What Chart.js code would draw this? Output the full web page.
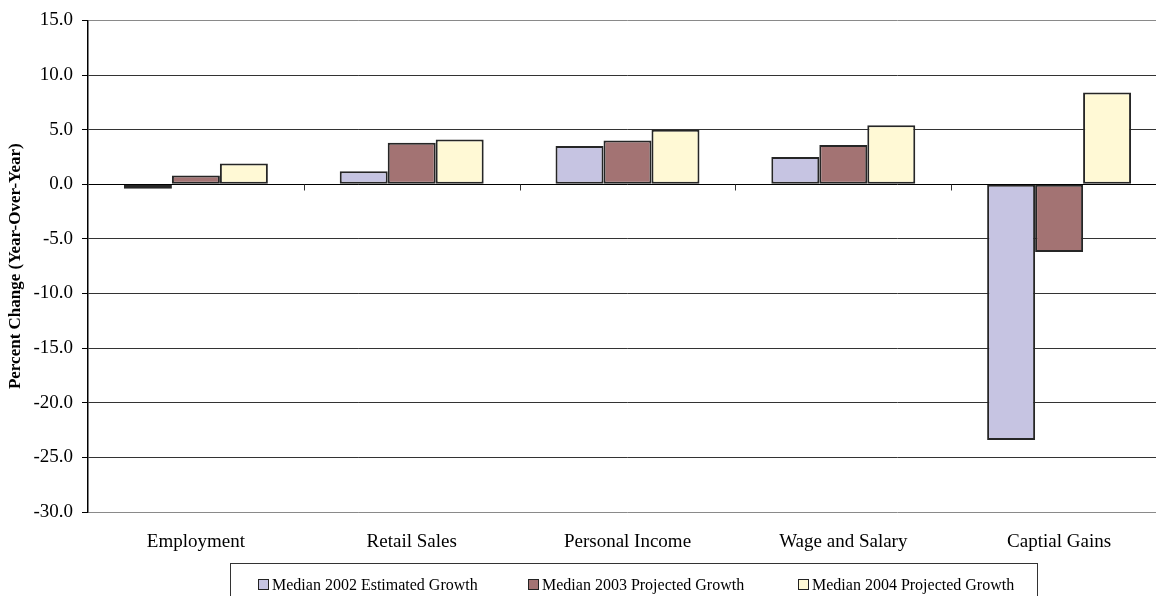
<!DOCTYPE html>
<html lang="en">
<head>
<meta charset="UTF-8">
<title>Median Growth Projections</title>
<script src="https://cdn.jsdelivr.net/npm/chart.js"></script>
<style>
    html, body { margin: 0; padding: 0; background: #fff; overflow: hidden; }
    #myChart { display: block; }
</style>
</head>
<body>
<canvas id="myChart" width="1167" height="596"></canvas>
<script>
    // data
    var categories = ['Employment', 'Retail Sales', 'Personal Income', 'Wage and Salary', 'Captial Gains']
    var median2002 = [-0.4, 1.2, 3.5, 2.5, -23.4]
    var median2003 = [0.8, 3.8, 4.0, 3.6, -6.2]
    var median2004 = [1.9, 4.1, 5.0, 5.4, 8.4]
    var seriesLabels = ['Median 2002 Estimated Growth', 'Median 2003 Projected Growth', 'Median 2004 Projected Growth']
    var yMin = -30
    var yMax = 15
    var yStep = 5

    var serif = '"Liberation Serif", "Times New Roman", serif'
    var colors = ['#c6c4e2', '#a37373', '#fff9d5']

    // small tick marks on the zero line between categories
    var zeroTicks = {
        id: 'zeroTicks',
        afterDatasetsDraw(chart) {
            var x = chart.scales.x
            var y = chart.scales.y
            var zero = Math.round(y.getPixelForValue(0)) + 0.5
            var ctx = chart.ctx
            ctx.save()
            ctx.strokeStyle = '#333'
            ctx.lineWidth = 1
            for (var i = 1; i < categories.length; i++) {
                var px = Math.round((x.getPixelForTick(i) + x.getPixelForTick(i - 1)) / 2) + 0.5
                ctx.beginPath()
                ctx.moveTo(px, zero)
                ctx.lineTo(px, zero + 6)
                ctx.stroke()
            }
            ctx.restore()
        }
    }

    // boxed legend under the chart
    var legendBox = {
        id: 'legendBox',
        afterDraw(chart) {
            var ctx = chart.ctx
            var starts = [258, 528, 798]
            ctx.save()
            ctx.strokeStyle = '#333'
            ctx.lineWidth = 1
            ctx.strokeRect(230.5, 563.5, 807, 60)
            ctx.font = '16px ' + serif
            ctx.textBaseline = 'alphabetic'
            chart.data.datasets.forEach(function (ds, i) {
                ctx.fillStyle = ds.backgroundColor
                ctx.fillRect(starts[i], 579, 10, 10)
                ctx.strokeStyle = '#222'
                ctx.strokeRect(starts[i] + 0.5, 579.5, 10, 10)
                ctx.fillStyle = '#000'
                ctx.fillText(ds.label, starts[i] + 14, 590)
            })
            ctx.restore()
        }
    }

    var series = [median2002, median2003, median2004]
    var datasets = series.map(function (values, i) {
        return {
            label: seriesLabels[i],
            data: values,
            backgroundColor: colors[i],
            borderColor: '#262626',
            borderWidth: 2,
            borderSkipped: false,
            categoryPercentage: 0.667,
            barPercentage: 1
        }
    })

    var ctx = document.getElementById('myChart')

    var grafico = new Chart(ctx, {
        type: 'bar',
        data: {
            labels: categories,
            datasets: datasets
        },
        options: {
            responsive: false,
            animation: false,
            devicePixelRatio: 1,
            layout: { padding: { top: 19, left: 0, right: 0, bottom: 0 } },
            plugins: {
                legend: { display: false },
                tooltip: { enabled: false }
            },
            scales: {
                x: {
                    grid: { display: false, drawTicks: false },
                    border: { display: false },
                    ticks: {
                        color: '#000',
                        padding: 19,
                        maxRotation: 0,
                        font: { family: serif, size: 19 }
                    },
                    afterFit: function (scale) { scale.height = 84 }
                },
                y: {
                    min: yMin,
                    max: yMax,
                    border: { color: '#000', width: 1.5 },
                    grid: {
                        color: function (c) {
                            if (c.tick.value === 0) return '#000'
                            if (c.tick.value === yMin || c.tick.value === yMax) return '#8a8a8a'
                            return '#333'
                        },
                        tickColor: '#000',
                        tickLength: 6
                    },
                    ticks: {
                        stepSize: yStep,
                        color: '#000',
                        padding: 9,
                        font: { family: serif, size: 19 },
                        callback: function (v) { return v.toFixed(1) }
                    },
                    title: {
                        display: true,
                        text: 'Percent Change (Year-Over-Year)',
                        color: '#000',
                        padding: { top: 5, bottom: 0 },
                        font: { family: serif, size: 17, weight: 'bold' }
                    },
                    afterFit: function (scale) { scale.width = 88 }
                }
            }
        },
        plugins: [zeroTicks, legendBox]
    });
</script>
</body>
</html>
